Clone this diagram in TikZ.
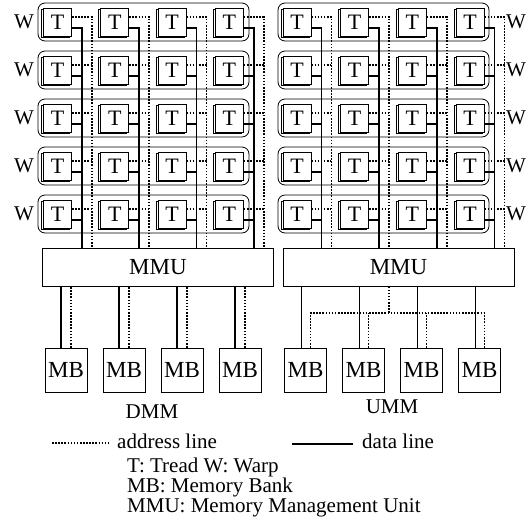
\documentclass[tikz,border=0pt]{standalone}
\usepackage{fontspec}
\setmainfont{Liberation Serif}
\usetikzlibrary{positioning,shadows,calc}
\tikzset{
  every node/.style={font=\fontsize{21}{20}\selectfont},
  warp/.style={draw,rounded corners=7pt,minimum width=211pt,minimum height=38pt,line width=0.8pt},
  thread/.style={draw,fill=white,minimum size=28pt,inner sep=0pt,line width=0.8pt,
    general shadow={shadow xshift=-2pt,shadow yshift=-1.5pt,draw=black,fill=white,line width=0.8pt},
    font=\fontsize{22}{22}\selectfont},
  unit/.style={draw,minimum width=231pt,minimum height=38pt,line width=0.8pt,font=\fontsize{23}{23}\selectfont},
  bank/.style={draw,minimum width=42pt,minimum height=44pt,inner sep=0pt,line width=0.8pt,font=\fontsize{23}{23}\selectfont},
  legend/.style={anchor=base west,inner sep=0pt},
  data/.style={line width=1.6pt},
  addr/.style={line width=1.7pt,dash pattern=on 1.6pt off 1.5pt},
}
\begin{document}
\begin{tikzpicture}[x=1pt,y=-1pt]
\useasboundingbox (0,0) rectangle (532,520);

% warps and threads
\foreach \r in {1,...,5} {
  \pgfmathsetmacro\ry{22+48*(\r-1)}
  \node[warp] (wbL\r) at (143.5,\ry) {};
  \node[warp] (wbR\r) at (383.5,\ry) {};
  \node (wL\r) at (24,\ry) {W};
  \node (wR\r) at (516,\ry) {W};
  \foreach \c in {1,...,4} {
    \node[thread] (tL\r\c) at ({57.5+57.3*(\c-1)},\ry) {T};
    \node[thread] (tR\r\c) at ({297+57.7*(\c-1)},\ry) {T};
  }
}

\node[unit] (mmuL) at (158,267) {MMU};
\node[unit] (mmuR) at (398.5,267) {MMU};

% thread lines
\foreach \c in {1,...,4} {
  \draw[data] ([yshift=-6pt]tL1\c.east) -- ++(10,0) coordinate (dL\c) -- (dL\c |- mmuL.north);
  \draw[addr] ([yshift=5pt]tL1\c.east) -- ++(20,0) coordinate (aL\c) -- (aL\c |- mmuL.north);
  \draw[data] ([yshift=-6pt]tR1\c.east) -- ++(10,0) coordinate (dR\c) -- (dR\c |- mmuR.north);
  \draw[addr] ([yshift=5pt]tR1\c.east) -- ++(20,0) coordinate (aR\c) -- (aR\c |- mmuR.north);
  \foreach \r in {2,...,5} {
    \draw[data] ([yshift=-6pt]tL\r\c.east) -- ++(10,0);
    \draw[addr] ([yshift=5pt]tL\r\c.east) -- ++(20,0);
    \draw[data] ([yshift=-6pt]tR\r\c.east) -- ++(10,0);
    \draw[addr] ([yshift=5pt]tR\r\c.east) -- ++(20,0);
  }
}

% memory banks
\coordinate (busR) at (389,313);
\foreach \c in {1,...,4} {
  \node[bank] (mbL\c) at ({66+58*(\c-1)},370) {MB};
  \node[bank] (mbR\c) at ({305.5+58*(\c-1)},370) {MB};
  \draw[data] ([xshift=-5pt]mbL\c.north) -- ([xshift=-5pt]mbL\c.north |- mmuL.south);
  \draw[addr] ([xshift=5pt]mbL\c.north) -- ([xshift=5pt]mbL\c.north |- mmuL.south);
  \draw[data] ([xshift=-4pt]mbR\c.north) -- ([xshift=-4pt]mbR\c.north |- mmuR.south);
}
\draw[addr] (busR |- mmuR.south) -- (busR);
\draw[addr] ([xshift=5pt]mbR1.north) |- ([xshift=5pt]mbR4.north |- busR) -- ([xshift=5pt]mbR4.north);
\draw[addr] ([xshift=5pt]mbR2.north) -- ([xshift=5pt]mbR2.north |- busR);
\draw[addr] ([xshift=5pt]mbR3.north) -- ([xshift=5pt]mbR3.north |- busR);

\node[anchor=base] (dmm) at (152,418) {DMM};
\node[anchor=base] (umm) at (392,413) {UMM};

% legend
\coordinate (addrS) at (52,443);
\node[legend] (addrtxt) at (117,448) {address line};
\draw[addr] (addrS) -- ([xshift=-7pt]addrS -| addrtxt.west);
\coordinate (dataS) at (292,444);
\node[legend] (datatxt) at (362,448) {data line};
\draw[data] (dataS) -- ([xshift=-9pt]dataS -| datatxt.west);
\node[legend] (leg1) at (127,472) {T: Tread W: Warp};
\node[legend] (leg2) at (127,492) {MB: Memory Bank};
\node[legend] (leg3) at (127,512) {MMU: Memory Management Unit};

\end{tikzpicture}
\end{document}
